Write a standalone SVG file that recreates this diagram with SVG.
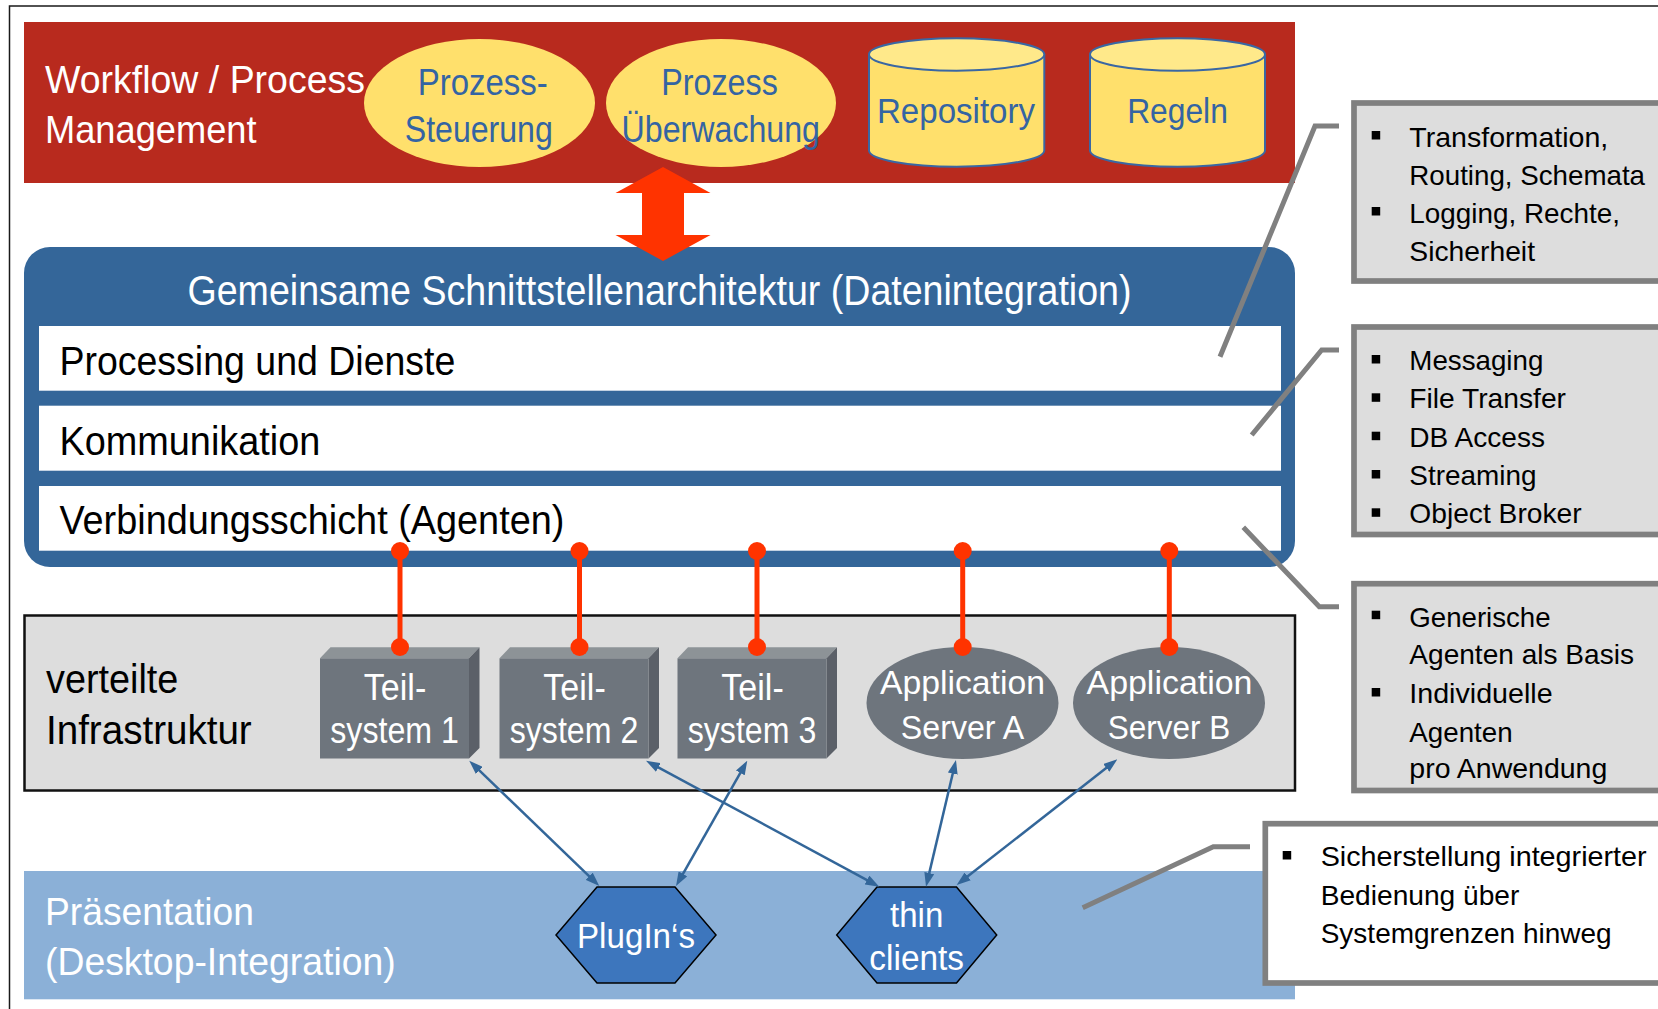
<svg xmlns="http://www.w3.org/2000/svg" width="1658" height="1009" viewBox="0 0 1658 1009">
<defs>
<style>
text { font-family: "Liberation Sans", Arial, sans-serif; }
.wt { fill: #ffffff; }
.bk { fill: #000000; }
.yt { fill: #3464A3; }
.yel { fill: #FFE06C; }
.cyl { fill: #FFE06C; stroke: #3A67A3; stroke-width: 2; }
.cyltop { fill: #FFE98A; stroke: #3A67A3; stroke-width: 2; }
.bar { fill: #ffffff; }
.tsF { fill: #6E757D; }
.tsT { fill: #8D9397; }
.tsS { fill: #5B6068; }
.app { fill: #6E757D; }
.hex { fill: #3D76BD; stroke: #000000; stroke-width: 1.5; }
.agent { stroke: #FF3300; stroke-width: 5; }
.dot { fill: #FF3300; }
.arr { stroke: #336699; stroke-width: 2.5; fill: none; marker-start: url(#ah); marker-end: url(#ah); }
.call { fill: none; stroke: #808080; stroke-width: 5; }
.box { fill: #DDDDDD; stroke: #808080; stroke-width: 5.7; }
.boxw { fill: #ffffff; stroke: #808080; stroke-width: 5.7; }
.bul { fill: #000000; }
.nt { font-size: 28.5px; fill: #000000; }
</style>
<marker id="ah" viewBox="0 0 14 10" refX="8" refY="5" markerWidth="14" markerHeight="10" markerUnits="userSpaceOnUse" orient="auto-start-reverse">
<path d="M0,0 L14,5 L0,10 Z" fill="#336699"/>
</marker>
</defs>

<rect x="9.5" y="6" width="1700" height="1100" fill="#ffffff" stroke="#1a1a1a" stroke-width="1.5"/>

<g id="workflow">
<rect x="24" y="22" width="1271" height="161" fill="#B82A1E"/>
<text x="45" y="93.3" font-size="39" class="wt" textLength="320" lengthAdjust="spacingAndGlyphs">Workflow / Process</text>
<text x="45" y="143.3" font-size="39" class="wt" textLength="211.5" lengthAdjust="spacingAndGlyphs">Management</text>
</g>

<g id="prozess-steuerung">
<ellipse cx="479.5" cy="103" rx="115.5" ry="64" class="yel"/>
<text x="482.7" y="95" font-size="37.5" class="yt" text-anchor="middle" textLength="130" lengthAdjust="spacingAndGlyphs">Prozess-</text>
<text x="478.8" y="141.7" font-size="37.5" class="yt" text-anchor="middle" textLength="148" lengthAdjust="spacingAndGlyphs">Steuerung</text>
</g>

<g id="prozess-ueberwachung">
<ellipse cx="721" cy="103" rx="115" ry="64" class="yel"/>
<text x="719.5" y="95" font-size="37.5" class="yt" text-anchor="middle" textLength="116.6" lengthAdjust="spacingAndGlyphs">Prozess</text>
<text x="720.8" y="141.7" font-size="37.5" class="yt" text-anchor="middle" textLength="198.4" lengthAdjust="spacingAndGlyphs">Überwachung</text>
</g>

<g id="repository">
<path d="M869,54.5 L869,150.5 A87.65,16.2 0 0 0 1044.3,150.5 L1044.3,54.5 Z" class="cyl"/>
<ellipse cx="956.65" cy="54.5" rx="87.65" ry="16.2" class="cyltop"/>
<text x="956" y="122.7" font-size="35" class="yt" text-anchor="middle" textLength="158" lengthAdjust="spacingAndGlyphs">Repository</text>
</g>

<g id="regeln">
<path d="M1090,54.5 L1090,150.5 A87.5,16.2 0 0 0 1265,150.5 L1265,54.5 Z" class="cyl"/>
<ellipse cx="1177.5" cy="54.5" rx="87.5" ry="16.2" class="cyltop"/>
<text x="1177.5" y="123" font-size="35" class="yt" text-anchor="middle" textLength="100.7" lengthAdjust="spacingAndGlyphs">Regeln</text>
</g>

<g id="schnittstellenarchitektur">
<rect x="24" y="247" width="1271" height="320" rx="26" ry="26" fill="#346699"/>
<text x="659.5" y="305" font-size="42" class="wt" text-anchor="middle" textLength="944" lengthAdjust="spacingAndGlyphs">Gemeinsame Schnittstellenarchitektur (Datenintegration)</text>
</g>

<g id="processing">
<rect x="39" y="326" width="1242" height="64.7" class="bar"/>
<text x="59.4" y="375" font-size="40" class="bk" textLength="396" lengthAdjust="spacingAndGlyphs">Processing und Dienste</text>
</g>

<g id="kommunikation">
<rect x="39" y="405.7" width="1242" height="65" class="bar"/>
<text x="59.4" y="455" font-size="40" class="bk" textLength="261" lengthAdjust="spacingAndGlyphs">Kommunikation</text>
</g>

<g id="verbindungsschicht">
<rect x="39" y="486" width="1242" height="64.7" class="bar"/>
<text x="59.4" y="534" font-size="40" class="bk" textLength="505" lengthAdjust="spacingAndGlyphs">Verbindungsschicht (Agenten)</text>
</g>

<g id="infrastruktur">
<rect x="24.5" y="615.5" width="1270.5" height="175" fill="#DDDDDD" stroke="#111111" stroke-width="2.5"/>
<text x="46" y="692.7" font-size="40" class="bk" textLength="132.3" lengthAdjust="spacingAndGlyphs">verteilte</text>
<text x="46" y="744" font-size="40" class="bk" textLength="205.7" lengthAdjust="spacingAndGlyphs">Infrastruktur</text>
</g>

<g id="teilsystem1">
<polygon points="320,658.3 330.5,647.3 479.5,647.3 469,658.3" class="tsT"/>
<polygon points="469,658.3 479.5,647.3 479.5,748 469,758.5" class="tsS"/>
<rect x="320" y="658.3" width="149" height="100.2" class="tsF"/>
<text x="395" y="700" font-size="36" class="wt" text-anchor="middle" textLength="62.5" lengthAdjust="spacingAndGlyphs">Teil-</text>
<text x="394.6" y="743.3" font-size="36" class="wt" text-anchor="middle" textLength="128.6" lengthAdjust="spacingAndGlyphs">system 1</text>
</g>

<g id="teilsystem2">
<polygon points="499.5,658.3 510,647.3 659,647.3 648.5,658.3" class="tsT"/>
<polygon points="648.5,658.3 659,647.3 659,748 648.5,758.5" class="tsS"/>
<rect x="499.5" y="658.3" width="149" height="100.2" class="tsF"/>
<text x="574.5" y="700" font-size="36" class="wt" text-anchor="middle" textLength="62.5" lengthAdjust="spacingAndGlyphs">Teil-</text>
<text x="574" y="743.3" font-size="36" class="wt" text-anchor="middle" textLength="128.6" lengthAdjust="spacingAndGlyphs">system 2</text>
</g>

<g id="teilsystem3">
<polygon points="677.5,658.3 688,647.3 837,647.3 826.5,658.3" class="tsT"/>
<polygon points="826.5,658.3 837,647.3 837,748 826.5,758.5" class="tsS"/>
<rect x="677.5" y="658.3" width="149" height="100.2" class="tsF"/>
<text x="752.5" y="700" font-size="36" class="wt" text-anchor="middle" textLength="62.5" lengthAdjust="spacingAndGlyphs">Teil-</text>
<text x="752" y="743.3" font-size="36" class="wt" text-anchor="middle" textLength="128.6" lengthAdjust="spacingAndGlyphs">system 3</text>
</g>

<g id="appserverA">
<ellipse cx="962.5" cy="703" rx="96" ry="56" class="app"/>
<text x="962.5" y="694" font-size="34" class="wt" text-anchor="middle" textLength="165" lengthAdjust="spacingAndGlyphs">Application</text>
<text x="962.5" y="739.3" font-size="34" class="wt" text-anchor="middle" textLength="123.3" lengthAdjust="spacingAndGlyphs">Server A</text>
</g>

<g id="appserverB">
<ellipse cx="1169" cy="703" rx="96" ry="56" class="app"/>
<text x="1169.5" y="694" font-size="34" class="wt" text-anchor="middle" textLength="166" lengthAdjust="spacingAndGlyphs">Application</text>
<text x="1169" y="739.3" font-size="34" class="wt" text-anchor="middle" textLength="122.3" lengthAdjust="spacingAndGlyphs">Server B</text>
</g>

<g id="praesentation">
<rect x="24" y="871" width="1271" height="128.3" fill="#8BB0D7"/>
<text x="45" y="925" font-size="39.5" class="wt" textLength="209" lengthAdjust="spacingAndGlyphs">Präsentation</text>
<text x="45" y="975" font-size="39.5" class="wt" textLength="350.7" lengthAdjust="spacingAndGlyphs">(Desktop-Integration)</text>
</g>

<g id="plugins">
<polygon points="597,887 675,887 716,935 675,983 597,983 556,935" class="hex"/>
<text x="636" y="948.3" font-size="35" class="wt" text-anchor="middle" textLength="118" lengthAdjust="spacingAndGlyphs">PlugIn‘s</text>
</g>

<g id="thinclients">
<polygon points="877,887 956.5,887 996.7,935 956.5,983 877,983 836.7,935" class="hex"/>
<text x="916.7" y="926.7" font-size="35" class="wt" text-anchor="middle" textLength="53.3" lengthAdjust="spacingAndGlyphs">thin</text>
<text x="916.7" y="970" font-size="35" class="wt" text-anchor="middle" textLength="94.7" lengthAdjust="spacingAndGlyphs">clients</text>
</g>

<g id="connectors">
<polygon points="663,167 710.5,193 684,193 684,235 710.5,235 663,261 615.5,235 642,235 642,193 615.5,193" fill="#FF3300"/>
<g id="agent-links">
<line x1="400" y1="551" x2="400" y2="647" class="agent"/>
<circle cx="400" cy="551" r="9" class="dot"/><circle cx="400" cy="647" r="9" class="dot"/>
<line x1="579.5" y1="551" x2="579.5" y2="647" class="agent"/>
<circle cx="579.5" cy="551" r="9" class="dot"/><circle cx="579.5" cy="647" r="9" class="dot"/>
<line x1="757" y1="551" x2="757" y2="647" class="agent"/>
<circle cx="757" cy="551" r="9" class="dot"/><circle cx="757" cy="647" r="9" class="dot"/>
<line x1="962.7" y1="551" x2="962.7" y2="647" class="agent"/>
<circle cx="962.7" cy="551" r="9" class="dot"/><circle cx="962.7" cy="647" r="9" class="dot"/>
<line x1="1169.3" y1="551" x2="1169.3" y2="647" class="agent"/>
<circle cx="1169.3" cy="551" r="9" class="dot"/><circle cx="1169.3" cy="647" r="9" class="dot"/>
</g>
<g id="client-links">
<path d="M473.6,764.9 L595,881.8" class="arr"/>
<path d="M744.3,765.9 L679,880.8" class="arr"/>
<path d="M651.3,763.6 L874,883.8" class="arr"/>
<path d="M954.6,765.8 L927.4,880.9" class="arr"/>
<path d="M1112.6,763 L961.4,881.3" class="arr"/>
</g>
</g>

<g id="note1">
<rect x="1354" y="103" width="400" height="178" class="box"/>
<rect x="1371.7" y="131" width="8.5" height="8.5" class="bul"/>
<rect x="1371.7" y="207" width="8.5" height="8.5" class="bul"/>
<text x="1409.3" y="147.3" class="nt" textLength="199" lengthAdjust="spacingAndGlyphs">Transformation,</text>
<text x="1409.3" y="185" class="nt" textLength="235.7" lengthAdjust="spacingAndGlyphs">Routing, Schemata</text>
<text x="1409.3" y="222.7" class="nt" textLength="210.7" lengthAdjust="spacingAndGlyphs">Logging, Rechte,</text>
<text x="1409.3" y="260.7" class="nt" textLength="125.7" lengthAdjust="spacingAndGlyphs">Sicherheit</text>
</g>

<g id="note2">
<rect x="1354" y="327" width="400" height="207.5" class="box"/>
<rect x="1371.7" y="355" width="8.5" height="8.5" class="bul"/>
<rect x="1371.7" y="393.3" width="8.5" height="8.5" class="bul"/>
<rect x="1371.7" y="431.7" width="8.5" height="8.5" class="bul"/>
<rect x="1371.7" y="470" width="8.5" height="8.5" class="bul"/>
<rect x="1371.7" y="508.3" width="8.5" height="8.5" class="bul"/>
<text x="1409.3" y="370" class="nt" textLength="134" lengthAdjust="spacingAndGlyphs">Messaging</text>
<text x="1409.3" y="408.3" class="nt" textLength="156.7" lengthAdjust="spacingAndGlyphs">File Transfer</text>
<text x="1409.3" y="446.7" class="nt" textLength="135.7" lengthAdjust="spacingAndGlyphs">DB Access</text>
<text x="1409.3" y="485" class="nt" textLength="127.3" lengthAdjust="spacingAndGlyphs">Streaming</text>
<text x="1409.3" y="523.3" class="nt" textLength="172.3" lengthAdjust="spacingAndGlyphs">Object Broker</text>
</g>

<g id="note3">
<rect x="1354" y="583.7" width="400" height="206.8" class="box"/>
<rect x="1371.7" y="610.7" width="8.5" height="8.5" class="bul"/>
<rect x="1371.7" y="688" width="8.5" height="8.5" class="bul"/>
<text x="1409.3" y="626.7" class="nt" textLength="141.3" lengthAdjust="spacingAndGlyphs">Generische</text>
<text x="1409.3" y="664" class="nt" textLength="224.7" lengthAdjust="spacingAndGlyphs">Agenten als Basis</text>
<text x="1409.3" y="703.3" class="nt" textLength="143.3" lengthAdjust="spacingAndGlyphs">Individuelle</text>
<text x="1409.3" y="741.7" class="nt" textLength="103.3" lengthAdjust="spacingAndGlyphs">Agenten</text>
<text x="1409.3" y="778.3" class="nt" textLength="198" lengthAdjust="spacingAndGlyphs">pro Anwendung</text>
</g>

<g id="note4">
<rect x="1265.3" y="823.7" width="500" height="159.3" class="boxw"/>
<rect x="1282.7" y="851" width="8.5" height="8.5" class="bul"/>
<text x="1320.7" y="866" class="nt" textLength="326" lengthAdjust="spacingAndGlyphs">Sicherstellung integrierter</text>
<text x="1320.7" y="905" class="nt" textLength="198.7" lengthAdjust="spacingAndGlyphs">Bedienung über</text>
<text x="1320.7" y="943.3" class="nt" textLength="291" lengthAdjust="spacingAndGlyphs">Systemgrenzen hinweg</text>
</g>

<g id="callouts">
<polyline points="1339,126 1315,126 1220,356.7" class="call"/>
<polyline points="1339,350 1321.7,350 1251.7,435" class="call"/>
<polyline points="1243.3,527.3 1319.3,606.7 1339,606.7" class="call"/>
<polyline points="1250,846.7 1213.3,846.7 1082.7,907.7" class="call"/>
</g>
</svg>
